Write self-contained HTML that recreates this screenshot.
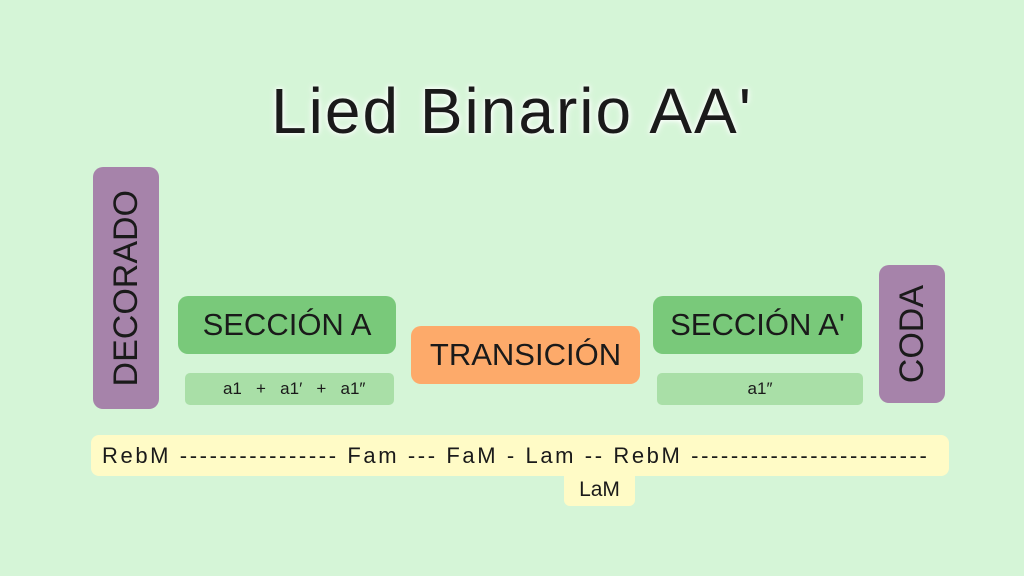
<!DOCTYPE html>
<html><head><meta charset="utf-8"><style>
body{margin:0;width:1024px;height:576px;background:#d5f5d7;position:relative;overflow:hidden;font-family:"Liberation Sans",sans-serif;}
.b{position:absolute;display:flex;align-items:center;justify-content:center;color:#1a1a1a;}
.t{position:absolute;left:0;width:1024px;top:74px;text-align:center;font-size:64px;color:#1a1a1a;text-shadow:0 0 8px #fff,0 0 4px #fff;letter-spacing:2px;}
.v{writing-mode:vertical-rl;transform:rotate(180deg);font-size:34px;}
</style></head><body>
<div class="t">Lied Binario AA'</div>
<div class="b" style="left:93px;top:167px;width:66px;height:242px;background:#a683aa;border-radius:10px;"><span class="v">DECORADO</span></div>
<div class="b" style="left:879px;top:265px;width:66px;height:138px;background:#a683aa;border-radius:10px;"><span class="v">CODA</span></div>
<div class="b" style="left:178px;top:296px;width:218px;height:58px;background:#79c97a;border-radius:10px;font-size:31px;">SECCIÓN A</div>
<div class="b" style="left:653px;top:296px;width:209px;height:58px;background:#79c97a;border-radius:10px;font-size:31px;">SECCIÓN A'</div>
<div class="b" style="left:411px;top:326px;width:229px;height:58px;background:#fdaa6a;border-radius:10px;font-size:31px;">TRANSICIÓN</div>
<div class="b" style="left:185px;top:373px;width:209px;height:32px;background:#a9dfa7;border-radius:5px;font-size:17px;white-space:pre;">  a1   +   a1′   +   a1″</div>
<div class="b" style="left:657px;top:373px;width:206px;height:32px;background:#a9dfa7;border-radius:5px;font-size:17px;">a1″</div>
<div class="b" style="left:564px;top:470px;width:71px;height:36px;background:#fffbc6;border-radius:6px;font-size:21px;padding-top:4px;box-sizing:border-box;">LaM</div>
<div class="b" style="left:91px;top:435px;width:858px;height:41px;background:#fffbc6;border-radius:8px;font-size:22px;justify-content:flex-start;padding-left:11px;box-sizing:border-box;white-space:pre;overflow:hidden;letter-spacing:2.6px;">RebM ---------------- Fam --- FaM - Lam -- RebM ------------------------</div>
</body></html>
